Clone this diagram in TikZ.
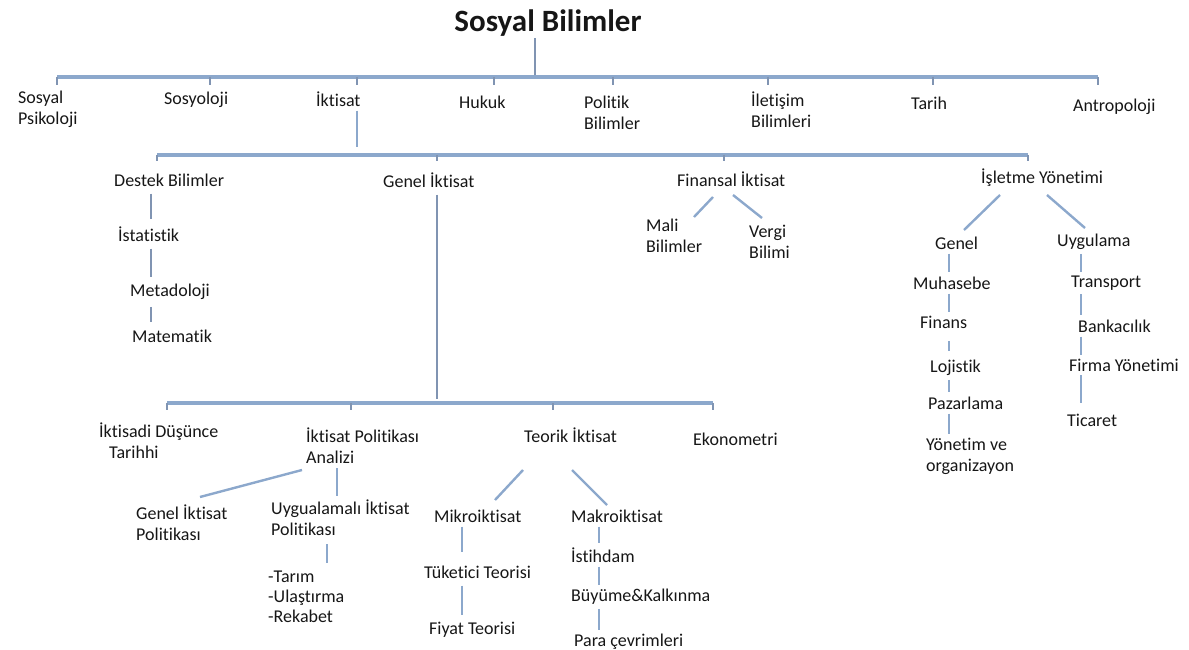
\documentclass[tikz,border=0pt]{standalone}
\usepackage{fontspec}
\setmainfont{Carlito}[Ligatures=NoCommon]
\definecolor{linkblue}{RGB}{140,168,204}
\definecolor{linkgray}{RGB}{128,148,178}
\definecolor{txtgray}{RGB}{22,22,22}
\tikzset{
  lbl/.style={anchor=west, inner sep=1pt, align=left, text=txtgray, font=\fontsize{18}{21}\selectfont},
  ttl/.style={anchor=base, inner sep=1pt, text=txtgray, font=\fontsize{31}{36}\selectfont\bfseries},
  bar/.style={draw=linkblue, line width=3.2pt},
  tick/.style={draw=linkgray, line width=1.5pt},
  link/.style={draw=linkblue, line width=2.6pt, shorten <=3pt, shorten >=3pt},
  thinlink/.style={draw=linkgray, line width=1.5pt, shorten <=6pt, shorten >=6pt},
  diag/.style={draw=linkblue, line width=2.4pt},
}
\begin{document}
\begin{tikzpicture}[x=1pt,y=-1pt]
\useasboundingbox (0,0) rectangle (1189,650);
%
\node[ttl] (sb) at (548,32) {Sosyal Bilimler};
%
\node[lbl] (spsik) at (17,109) {Sosyal\\Psikoloji};
\node[lbl] (sosyo) at (163,100) {Sosyoloji};
\node[lbl] (ikt) at (315,99) {İktisat};
\node[lbl] (hukuk) at (458,102) {Hukuk};
\node[lbl] (polit) at (583,113) {Politik\\Bilimler};
\node[lbl] (ilet) at (750,110) {İletişim\\Bilimleri};
\node[lbl] (tarih) at (910,103) {Tarih};
\node[lbl] (antro) at (1072,107) {Antropoloji};
%
\node[lbl] (destek) at (113,180) {Destek Bilimler};
\node[lbl] (genel) at (382,180) {Genel İktisat};
\node[lbl] (finans) at (676,179) {Finansal İktisat};
\node[lbl] (islet) at (980,178) {İşletme Yönetimi};
%
\node[lbl] (istat) at (117,234) {İstatistik};
\node[lbl] (metod) at (129,292) {Metadoloji};
\node[lbl] (matem) at (131,336) {Matematik};
%
\node[lbl] (mali) at (645,236) {Mali\\Bilimler};
\node[lbl] (vergi) at (748,242) {Vergi\\Bilimi};
%
\node[lbl] (igenel) at (934,243) {Genel};
\node[lbl] (muhas) at (912,283) {Muhasebe};
\node[lbl] (fin) at (919,322) {Finans};
\node[lbl] (lojis) at (929,368) {Lojistik};
\node[lbl] (pazar) at (927,403) {Pazarlama};
\node[lbl] (yonet) at (925,456) {Yönetim ve\\organizayon};
%
\node[lbl] (uygul) at (1056,242) {Uygulama};
\node[lbl] (trans) at (1070,283) {Transport};
\node[lbl] (banka) at (1077,326) {Bankacılık};
\node[lbl] (firma) at (1068,365) {Firma Yönetimi};
\node[lbl] (ticar) at (1066,420) {Ticaret};
%
\node[lbl] (idt) at (98,441) {İktisadi Düşünce\\\hspace*{10pt}Tarihhi};
\node[lbl] (ipa) at (305,446) {İktisat Politikası\\Analizi};
\node[lbl] (teorik) at (523,435) {Teorik İktisat};
\node[lbl] (ekono) at (692,439) {Ekonometri};
%
\node[lbl] (gip) at (135,523) {Genel İktisat\\Politikası};
\node[lbl] (uip) at (270,518) {Uygualamalı İktisat\\Politikası};
\node[lbl, font=\fontsize{18}{20}\selectfont] (sektor) at (267,597) {-Tarım\\-Ulaştırma\\-Rekabet};
%
\node[lbl] (mikro) at (433,516) {Mikroiktisat};
\node[lbl] (tuket) at (423,572) {Tüketici Teorisi};
\node[lbl] (fiyat) at (428,630) {Fiyat Teorisi};
%
\node[lbl] (makro) at (570,516) {Makroiktisat};
\node[lbl] (istih) at (570,555) {İstihdam};
\node[lbl] (buyum) at (570,597) {Büyüme\&Kalkınma};
\node[lbl] (para) at (573,642) {Para çevrimleri};
%
% top bar
\path (535,77) coordinate (k0)
  (57,77) coordinate (k-spsik) (210,77) coordinate (k-sosyo)
  (357,77) coordinate (k-ikt) (494,77) coordinate (k-hukuk)
  (613,77) coordinate (k-polit) (768,77) coordinate (k-ilet)
  (933,77) coordinate (k-tarih) (1098,77) coordinate (k-antro);
\draw[tick] (sb.south -| k0) -- (k0);
\draw[bar] (k-spsik) -- (k-antro);
\draw[tick] (k-spsik) -- ++(0,8);
\draw[tick] (k-sosyo) -- ++(0,8);
\draw[tick] (k-ikt) -- ++(0,8);
\draw[tick] (k-hukuk) -- ++(0,8);
\draw[tick] (k-polit) -- ++(0,8);
\draw[tick] (k-ilet) -- ++(0,8);
\draw[tick] (k-tarih) -- ++(0,8);
\draw[tick] (k-antro) -- ++(0,8);
%
% iktisat bar
\path (357,155) coordinate (m0)
  (157,155) coordinate (m-destek) (437,155) coordinate (m-genel)
  (724,155) coordinate (m-finans) (1028,155) coordinate (m-islet);
\draw[link, shorten >=8pt] (ikt.south -| m0) -- (m0);
\draw[bar] (m-destek) -- (m-islet);
\draw[tick] (m-destek) -- ++(0,6);
\draw[tick] (m-genel) -- ++(0,6);
\draw[tick] (m-finans) -- ++(0,6);
\draw[tick] (m-islet) -- ++(0,6);
%
% genel iktisat bar
\path (437,403) coordinate (n0)
  (167,403) coordinate (n-idt) (351,403) coordinate (n-ipa)
  (553,403) coordinate (n-teorik) (713,403) coordinate (n-ekono);
\draw[thinlink, shorten >=4pt] (genel.south -| n0) -- (n0);
\draw[bar] (n-idt) -- (n-ekono);
\draw[tick] (n-idt) -- ++(0,7);
\draw[tick] (n-ipa) -- ++(0,7);
\draw[tick] (n-teorik) -- ++(0,7);
\draw[tick] (n-ekono) -- ++(0,7);
%
% chains
\coordinate (dx) at (151,0);
\draw[thinlink] (destek.south -| dx) -- (istat.north -| dx);
\draw[thinlink] (istat.south -| dx) -- (metod.north -| dx);
\draw[thinlink] (metod.south -| dx) -- (matem.north -| dx);
%
\coordinate (gx) at (949,0);
\draw[link] (igenel.south -| gx) -- (muhas.north -| gx);
\draw[link] (muhas.south -| gx) -- (fin.north -| gx);
\draw[link, line width=1.2pt, shorten <=12pt, shorten >=8pt] (fin.south -| gx) -- (lojis.north -| gx);
\draw[link] (lojis.south -| gx) -- (pazar.north -| gx);
\draw[link] (pazar.south -| gx) -- (yonet.north -| gx);
%
\coordinate (ux) at (1081,0);
\draw[link] (uygul.south -| ux) -- (trans.north -| ux);
\draw[link] (trans.south -| ux) -- (banka.north -| ux);
\draw[link] (banka.south -| ux) -- (firma.north -| ux);
\draw[link, shorten >=10pt] (firma.south -| ux) -- (ticar.north -| ux);
%
\coordinate (px) at (337,0);
\coordinate (sx) at (327,0);
\draw[link] (ipa.south -| px) -- (uip.north -| px);
\draw[link, shorten <=7pt, shorten >=7pt] (uip.south -| sx) -- (sektor.north -| sx);
%
\coordinate (ix) at (462,0);
\draw[link, shorten >=12pt] (mikro.south -| ix) -- (tuket.north -| ix);
\draw[link, shorten <=6pt, shorten >=6pt] (tuket.south -| ix) -- (fiyat.north -| ix);
%
\coordinate (ax) at (599,0);
\draw[link] (makro.south -| ax) -- (istih.north -| ax);
\draw[link] (istih.south -| ax) -- (buyum.north -| ax);
\draw[link] (buyum.south -| ax) -- (para.north -| ax);
%
% diagonals
\draw[diag] ([shift={(37,18)}]finans.west) -- ([shift={(49,-19)}]mali.west);
\draw[diag] ([shift={(57,16)}]finans.west) -- ([shift={(14,-24)}]vergi.west);
\draw[diag] ([shift={(20,17)}]islet.west) -- ([shift={(30,-13)}]igenel.west);
\draw[diag] ([shift={(67,17)}]islet.west) -- ([shift={(29,-14)}]uygul.west);
\draw[diag] ([shift={(-3,24)}]ipa.west) -- ([shift={(65,-26)}]gip.west);
\draw[diag] ([shift={(0,35)}]teorik.west) -- ([shift={(62,-16)}]mikro.west);
\draw[diag] ([shift={(49,35)}]teorik.west) -- ([shift={(37,-11)}]makro.west);
%
\end{tikzpicture}
\end{document}
